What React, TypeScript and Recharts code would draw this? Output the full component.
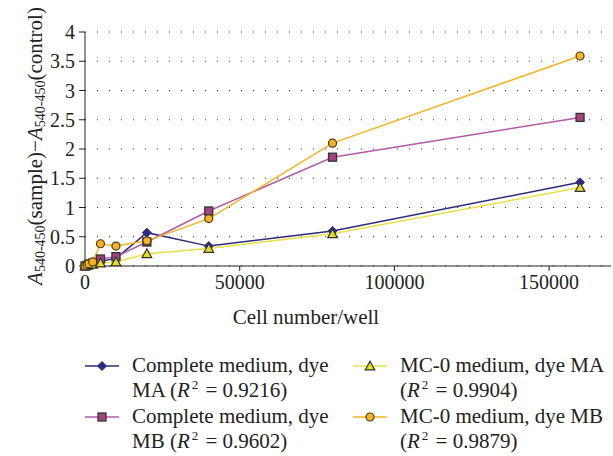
import React from 'react';
import { LineChart, Line, XAxis, YAxis, CartesianGrid, Legend } from 'recharts';

const cellCounts = [0, 625, 1250, 2500, 5000, 10000, 20000, 40000, 80000, 160000];
const completeMA = [0, 0.01, 0.02, 0.04, 0.08, 0.13, 0.57, 0.34, 0.6, 1.43];
const completeMB = [0, 0.01, 0.03, 0.05, 0.12, 0.16, 0.41, 0.94, 1.86, 2.54];
const mc0MA = [0, 0.01, 0.02, 0.03, 0.05, 0.07, 0.21, 0.3, 0.55, 1.34];
const mc0MB = [0, 0.02, 0.04, 0.07, 0.38, 0.34, 0.43, 0.81, 2.1, 3.59];

const xTicks = [0, 50000, 100000, 150000];
const yTicks = [0, 0.5, 1, 1.5, 2, 2.5, 3, 3.5, 4];

const seriesNames = [
  'Complete medium, dye MA',
  'Complete medium, dye MB',
  'MC-0 medium, dye MA',
  'MC-0 medium, dye MB',
];
const rSquared = ['0.9216', '0.9602', '0.9904', '0.9879'];
const legendWrapWords = [3, 3, 4, 4];
const seriesKeys = ['cMA', 'cMB', 'mMA', 'mMB'];
const seriesValues = [completeMA, completeMB, mc0MA, mc0MB];

const data = cellCounts.map((x, i) => {
  const row: Record<string, number> = { x };
  seriesKeys.forEach((k, j) => {
    row[k] = seriesValues[j][i];
  });
  return row;
});

const FONT = '"Liberation Serif", "Times New Roman", serif';

const styles = [
  { line: '#2c2b7c', fill: '#2c2b7c', stroke: '#2c2b7c', shape: 'diamond' },
  { line: '#b45aa8', fill: '#a3437f', stroke: '#333333', shape: 'square' },
  { line: '#e9e046', fill: '#e6dc1c', stroke: '#333333', shape: 'triangle' },
  { line: '#f5b325', fill: '#f5b325', stroke: '#4a3a10', shape: 'circle' },
];

function Marker({ cx, cy, shape, fill, stroke }: any) {
  if (cx == null || cy == null) return null;
  if (shape === 'diamond') {
    const r = 4.5;
    return (
      <polygon
        points={`${cx},${cy - r} ${cx + r},${cy} ${cx},${cy + r} ${cx - r},${cy}`}
        fill={fill}
        stroke={stroke}
        strokeWidth={1}
      />
    );
  }
  if (shape === 'square') {
    const r = 4;
    return <rect x={cx - r} y={cy - r} width={2 * r} height={2 * r} fill={fill} stroke={stroke} strokeWidth={1.3} />;
  }
  if (shape === 'triangle') {
    const r = 4.8;
    return (
      <polygon
        points={`${cx},${cy - r} ${cx + r},${cy + r * 0.8} ${cx - r},${cy + r * 0.8}`}
        fill={fill}
        stroke={stroke}
        strokeWidth={1.2}
      />
    );
  }
  return <circle cx={cx} cy={cy} r={4} fill={fill} stroke={stroke} strokeWidth={1.2} />;
}

function YLabel({ viewBox }: any) {
  const cx = viewBox.x + 10;
  const cy = viewBox.y + viewBox.height / 2 - 3;
  return (
    <text
      x={cx}
      y={cy}
      transform={`rotate(-90, ${cx}, ${cy})`}
      textAnchor="middle"
      dominantBaseline="central"
      fontFamily={FONT}
      fontSize={21}
      fill="#222"
    >
      <tspan fontStyle="italic">A</tspan>
      <tspan fontSize={14} dy={5}>540-450</tspan>
      <tspan dy={-5}>(sample)−</tspan>
      <tspan fontStyle="italic">A</tspan>
      <tspan fontSize={14} dy={5}>540-450</tspan>
      <tspan dy={-5}>(control)</tspan>
    </text>
  );
}

function XLabel({ viewBox }: any) {
  return (
    <text
      x={viewBox.x + 221}
      y={viewBox.y + 51}
      textAnchor="middle"
      dominantBaseline="central"
      fontFamily={FONT}
      fontSize={21}
      fill="#222"
    >
      Cell number/well
    </text>
  );
}

function LegendIcon({ i }: { i: number }) {
  const s = styles[i];
  return (
    <svg width={36} height={14} style={{ position: 'absolute', left: 0, top: 6 }}>
      <line x1={0} y1={7} x2={34} y2={7} stroke={s.line} strokeWidth={1.6} />
      <Marker cx={17} cy={7} shape={s.shape} fill={s.fill} stroke={s.stroke} />
    </svg>
  );
}

function LegendContent() {
  const cols = [85, 353];
  const rows = [0, 51];
  const order = [
    [0, 0],
    [0, 1],
    [1, 0],
    [1, 1],
  ];
  return (
    <div style={{ position: 'relative', width: 613, height: 110, fontFamily: FONT, fontSize: 21, color: '#222' }}>
      {seriesNames.map((name, i) => {
        const [c, r] = order[i];
        const words = name.split(' ');
        const line1 = words.slice(0, legendWrapWords[i]).join(' ');
        const rest = words.slice(legendWrapWords[i]).join(' ');
        return (
          <div
            key={name}
            style={{ position: 'absolute', left: cols[c], top: rows[r], width: 262, lineHeight: '25px' }}
          >
            <LegendIcon i={i} />
            <div style={{ marginLeft: 47, whiteSpace: 'nowrap' }}>
              <div>{line1}</div>
              <div>
                <span>{rest ? `${rest} (` : '('}</span>
                <i>R</i>
                <sup style={{ fontSize: 13, lineHeight: 0, marginLeft: 2 }}>2</sup>
                <span style={{ marginLeft: 2 }}>{` = ${rSquared[i]})`}</span>
              </div>
            </div>
          </div>
        );
      })}
    </div>
  );
}

export default function App() {
  return (
    <div style={{ position: 'absolute', left: 0, top: 0, width: 613, height: 456, background: '#fff' }}>
      <LineChart width={613} height={456} data={data} margin={{ top: 32, right: 2, left: 25, bottom: 160 }}>
        <CartesianGrid vertical={false} stroke="#333" strokeDasharray="1 11" />
        <XAxis
          dataKey="x"
          type="number"
          domain={[0, 170000]}
          ticks={xTicks}
          height={30}
          tickSize={5}
          tickMargin={4}
          axisLine={{ stroke: '#222' }}
          tickLine={{ stroke: '#222' }}
          tick={{ fill: '#222', fontSize: 20, fontFamily: FONT }}
          label={<XLabel />}
        />
        <YAxis
          type="number"
          domain={[0, 4]}
          ticks={yTicks}
          width={60}
          tickSize={6}
          tickMargin={4}
          axisLine={{ stroke: '#222' }}
          tickLine={{ stroke: '#222' }}
          tick={{ fill: '#222', fontSize: 20, fontFamily: FONT }}
          label={<YLabel />}
        />
        {seriesKeys.map((k, i) => (
          <Line
            key={k}
            dataKey={k}
            name={seriesNames[i]}
            type="linear"
            stroke={styles[i].line}
            strokeWidth={1.5}
            isAnimationActive={false}
            dot={(p: any) => (
              <Marker key={`${k}-${p.index}`} cx={p.cx} cy={p.cy} shape={styles[i].shape} fill={styles[i].fill} stroke={styles[i].stroke} />
            )}
            activeDot={false}
          />
        ))}
        <Legend
          layout="horizontal"
          verticalAlign="middle"
          align="center"
          content={<LegendContent />}
          wrapperStyle={{ position: 'absolute', left: 0, top: 353, width: 613 }}
        />
      </LineChart>
    </div>
  );
}
